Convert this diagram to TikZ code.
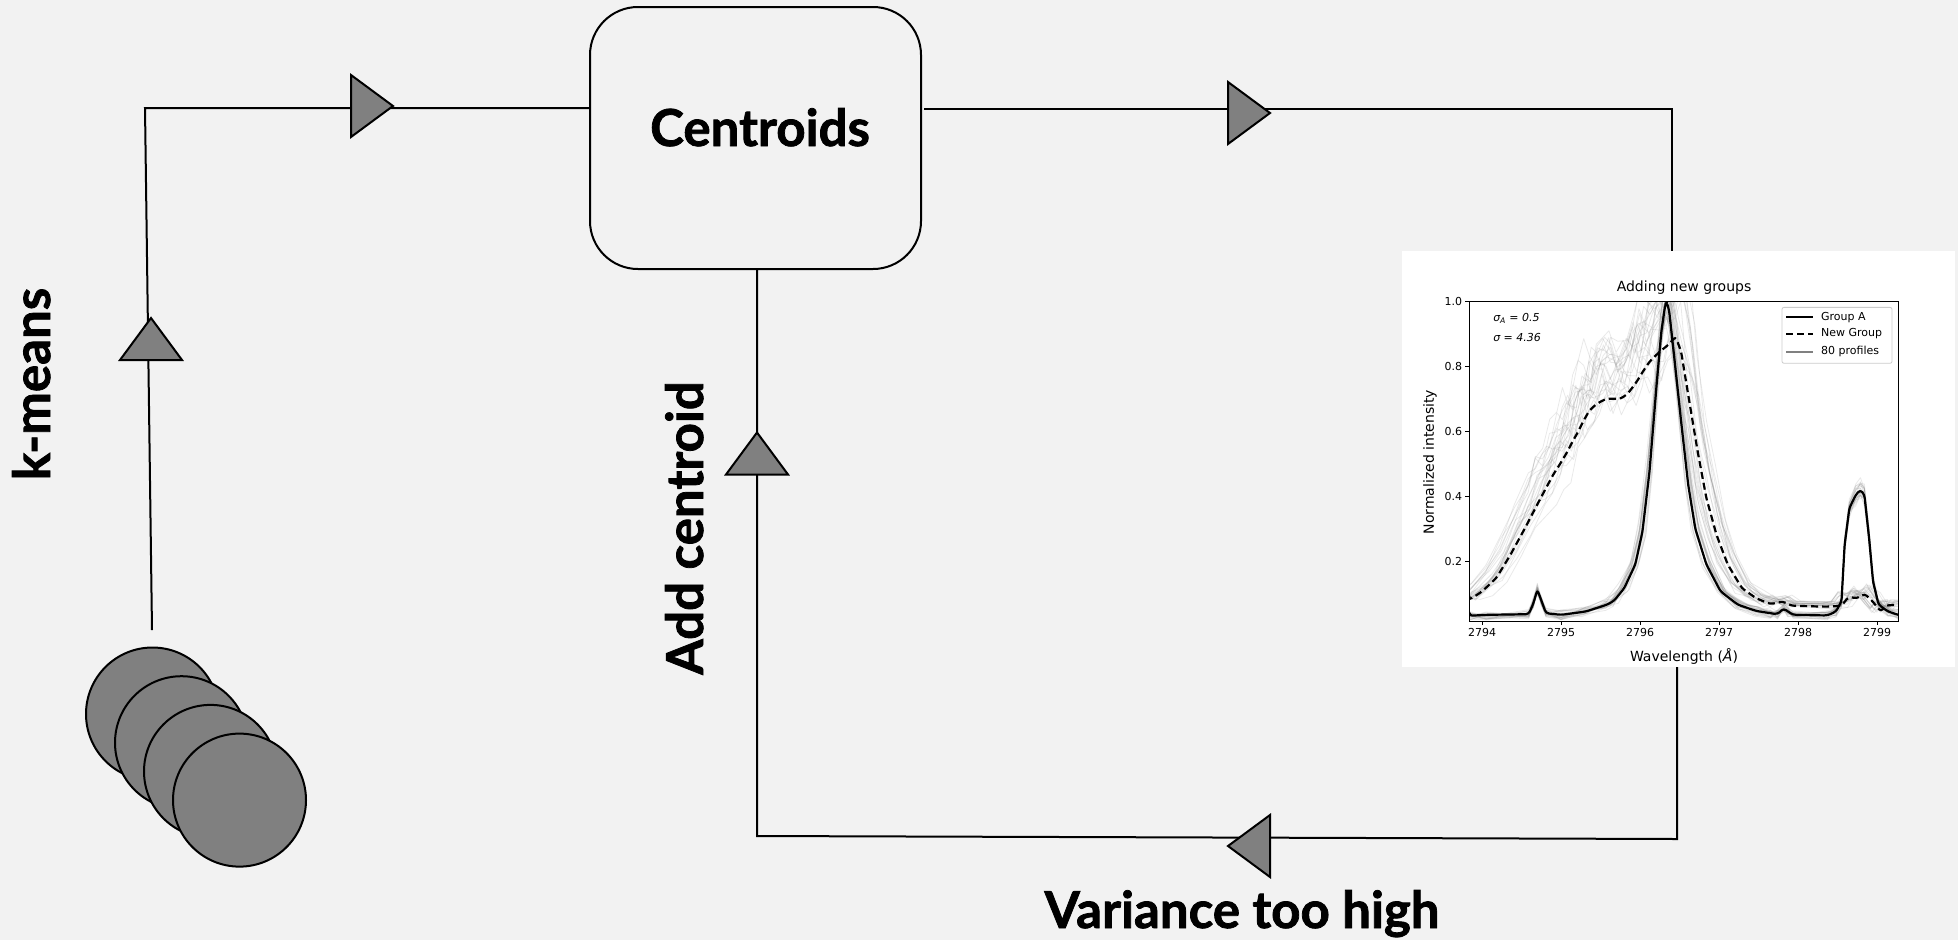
\documentclass[tikz,border=0pt]{standalone}
\usepackage{fontspec}
\setmainfont{Lato}[BoldFeatures={FakeBold=1.5}]
\newfontfamily\plotfont{DejaVu Sans}
\usetikzlibrary{positioning,calc}

\definecolor{bggray}{HTML}{F2F2F2}
\definecolor{trigray}{HTML}{808080}
\definecolor{lggray}{HTML}{CCCCCC}

\tikzset{
  flow/.style={line width=2pt},
  bigtxt/.style={font=\fontsize{51}{55}\selectfont\bfseries, inner sep=0pt},
  cbox/.style={draw, line width=2pt, rounded corners=48pt,
    minimum width=331pt, minimum height=262pt},
  blob/.style={circle, draw, fill=trigray, line width=2pt,
    minimum size=133pt, inner sep=0pt},
  tri/.pic={\filldraw[fill=trigray, line width=2pt] (-21,-31) -- (21,0) -- (-21,31) -- cycle;},
  inset/.style={fill=white, minimum width=553pt, minimum height=416pt},
  ticklbl/.style={font=\plotfont\fontsize{11}{13}\selectfont, inner sep=1pt},
  axlbl/.style={font=\plotfont\fontsize{14}{16}\selectfont, inner sep=0pt},
  lgtxt/.style={font=\plotfont\fontsize{11}{13}\selectfont, inner sep=0pt, anchor=west},
  meanA/.style={line width=2.2pt, line join=round, rounded corners=3pt},
  meanN/.style={line width=2.2pt, line join=round, rounded corners=3pt, dash pattern=on 7pt off 4pt},
  prof/.style={line width=0.8pt, gray, opacity=0.17, line join=round},
}

% mean profiles (wavelength/intensity)
\def\grpA{2793.84/0.032, 2794.05/0.035, 2794.59/0.037, 2794.65/0.07, 2794.70/0.112,
  2794.75/0.08, 2794.81/0.04, 2795.0/0.035, 2795.31/0.045, 2795.58/0.066, 2795.67/0.078,
  2795.80/0.117, 2795.94/0.19, 2796.03/0.29, 2796.12/0.476, 2796.21/0.743, 2796.27/0.907,
  2796.32/0.99, 2796.34/0.997, 2796.37/0.968, 2796.43/0.835, 2796.52/0.63, 2796.61/0.435,
  2796.70/0.30, 2796.84/0.19, 2797.02/0.107, 2797.24/0.066, 2797.47/0.047, 2797.65/0.04,
  2797.74/0.037, 2797.82/0.055, 2797.87/0.045, 2797.94/0.035, 2798.37/0.033, 2798.48/0.045,
  2798.55/0.076, 2798.59/0.25, 2798.65/0.363, 2798.73/0.404, 2798.79/0.42, 2798.84/0.404,
  2798.90/0.27, 2798.95/0.137, 2799.02/0.066, 2799.14/0.045, 2799.27/0.035}
\def\grpN{2793.84/0.081, 2794.0/0.107, 2794.18/0.148, 2794.36/0.22, 2794.54/0.30,
  2794.72/0.384, 2794.81/0.425, 2794.90/0.466, 2794.99/0.50, 2795.08/0.537, 2795.15/0.57,
  2795.22/0.60, 2795.28/0.63, 2795.35/0.66, 2795.42/0.678, 2795.49/0.69, 2795.58/0.70,
  2795.67/0.70, 2795.76/0.70, 2795.85/0.717, 2795.96/0.753, 2796.04/0.785, 2796.12/0.814,
  2796.25/0.845, 2796.36/0.866, 2796.45/0.891, 2796.52/0.845, 2796.61/0.712, 2796.73/0.537,
  2796.84/0.394, 2796.97/0.28, 2797.11/0.19, 2797.29/0.117, 2797.47/0.086, 2797.65/0.068,
  2797.81/0.076, 2797.92/0.063, 2798.37/0.06, 2798.55/0.063, 2798.64/0.09, 2798.75/0.086,
  2798.84/0.10, 2798.93/0.08, 2799.05/0.045, 2799.11/0.064, 2799.27/0.066}

\begin{document}
\begin{tikzpicture}[x=1pt, y=-1pt]
  \fill[bggray] (0,0) rectangle (1958,940);
  \useasboundingbox (0,0) rectangle (1958,940);

  % inset plot
  \node[inset] (plot) at (1678,459) {};
  \begin{scope}[shift={(1482,626.2)}, x=79pt, y=325pt]
    \begin{scope}
      \clip (-0.16,0.016) rectangle (5.27,1.0);
      \pgfmathsetseed{11}
      \foreach \k in {1,...,24}{
        \pgfmathsetmacro\sx{0.25*rand}
        \pgfmathsetmacro\sy{1+0.08*rand}
        \draw[prof] (-0.16,0.035) \foreach \x/\y in \grpA
          {-- ({\x-2794+\sx*(\x-2796.34)*max(0,1-abs(\x-2796.34)/1.3)},{\y*\sy+0.015*rand})};
      }
      \foreach \k in {1,...,24}{
        \pgfmathsetmacro\sx{0.15*rand}
        \pgfmathsetmacro\sy{1.08+0.15*rand}
        \draw[prof] (-0.16,0.09) \foreach \x/\y in \grpN
          {-- ({\x-2794+\sx},{\y*(\sy+0.1*rand)})};
      }
      \draw[meanA] (-0.16,0.032) \foreach \x/\y in \grpA {-- ({\x-2794},\y)};
      \draw[meanN] (-0.16,0.081) \foreach \x/\y in \grpN {-- ({\x-2794},\y)};
    \end{scope}
    \draw[line width=1pt] (-0.16,0.016) rectangle (5.27,1.0);
    \foreach \v [count=\j] in {0.2,0.4,0.6,0.8,1.0}{
      \draw[line width=1pt] (-0.16,\v) -- ++(-4pt,0);
      \node[ticklbl, anchor=east, xshift=-6pt] (yt\j) at (-0.16,\v) {\v};
    }
    \foreach \lam [count=\j] in {0,...,5}{
      \draw[line width=1pt] (\lam,0.016) -- ++(0,-4pt);
      \node[ticklbl, anchor=north, yshift=-6pt] (xt\j) at (\lam,0.016) {\the\numexpr2794+\lam\relax};
    }
    \node[axlbl] (title) at (2.557,1.041) {Adding new groups};
    \node[axlbl] (xlab) at (2.557,-0.092) {Wavelength (\textit{Å})};
    \node[axlbl, rotate=90] (ylab) at (-0.658,0.505) {Normalized intensity};
    \node[ticklbl, anchor=west, font=\plotfont\itshape\fontsize{11}{13}\selectfont] (sigA) at (0.127,0.948) {σ\textsubscript{A} = 0.5};
    \node[ticklbl, anchor=west, font=\plotfont\itshape\fontsize{11}{13}\selectfont] (sig) at (0.127,0.887) {σ = 4.36};
    % legend
    \draw[lggray, fill=white, rounded corners=2pt, line width=0.8pt] (3.797,0.809) rectangle (5.19,0.981);
    \draw[meanA] (3.848,0.951) -- (4.19,0.951);
    \draw[meanN] (3.848,0.899) -- (4.19,0.899);
    \draw[gray, line width=1.5pt] (3.848,0.844) -- (4.19,0.844);
    \node[lgtxt] (lgA) at (4.29,0.951) {Group A};
    \node[lgtxt] (lgN) at (4.29,0.899) {New Group};
    \node[lgtxt] (lgP) at (4.29,0.844) {80 profiles};
  \end{scope}

  % centroid box and the stack of data points
  \node[cbox] (cent) at (755.5,138) {};
  \node[bigtxt, anchor=base] (centT) at (760,146) {Centroids};
  \foreach \i in {0,...,3}
    \node[blob] (blob\i) at ({152.5+29*\i},{714+28.7*\i}) {};

  % the loop
  \coordinate (kbot) at (152,630);
  \coordinate (ktop) at (145,108);
  \coordinate (rtop) at (1672,109);
  \coordinate (rbot) at (1677,839);
  \coordinate (lbot) at (757,836);
  \draw[flow] (kbot) -- (ktop) -- (ktop -| cent.west);
  \draw[flow] ([xshift=2pt]rtop -| cent.east) -- (rtop) -- (rtop |- plot.north);
  \draw[flow] (rbot |- plot.south) -- (rbot) -- (lbot) -- (lbot |- cent.south);

  \pic at (372,106) {tri};
  \pic[rotate=90] at (151,339) {tri};
  \pic at (1249,113) {tri};
  \pic[rotate=90] at (757,453.5) {tri};
  \pic[rotate=180] at (1249,846) {tri};

  \node[bigtxt, anchor=base, rotate=90] (kmT) at (50,384) {k-means};
  \node[bigtxt, anchor=base, rotate=90] (addT) at (703,528) {Add centroid};
  \node[bigtxt, anchor=base] (varT) at (1242,928) {Variance too high};
\end{tikzpicture}
\end{document}
